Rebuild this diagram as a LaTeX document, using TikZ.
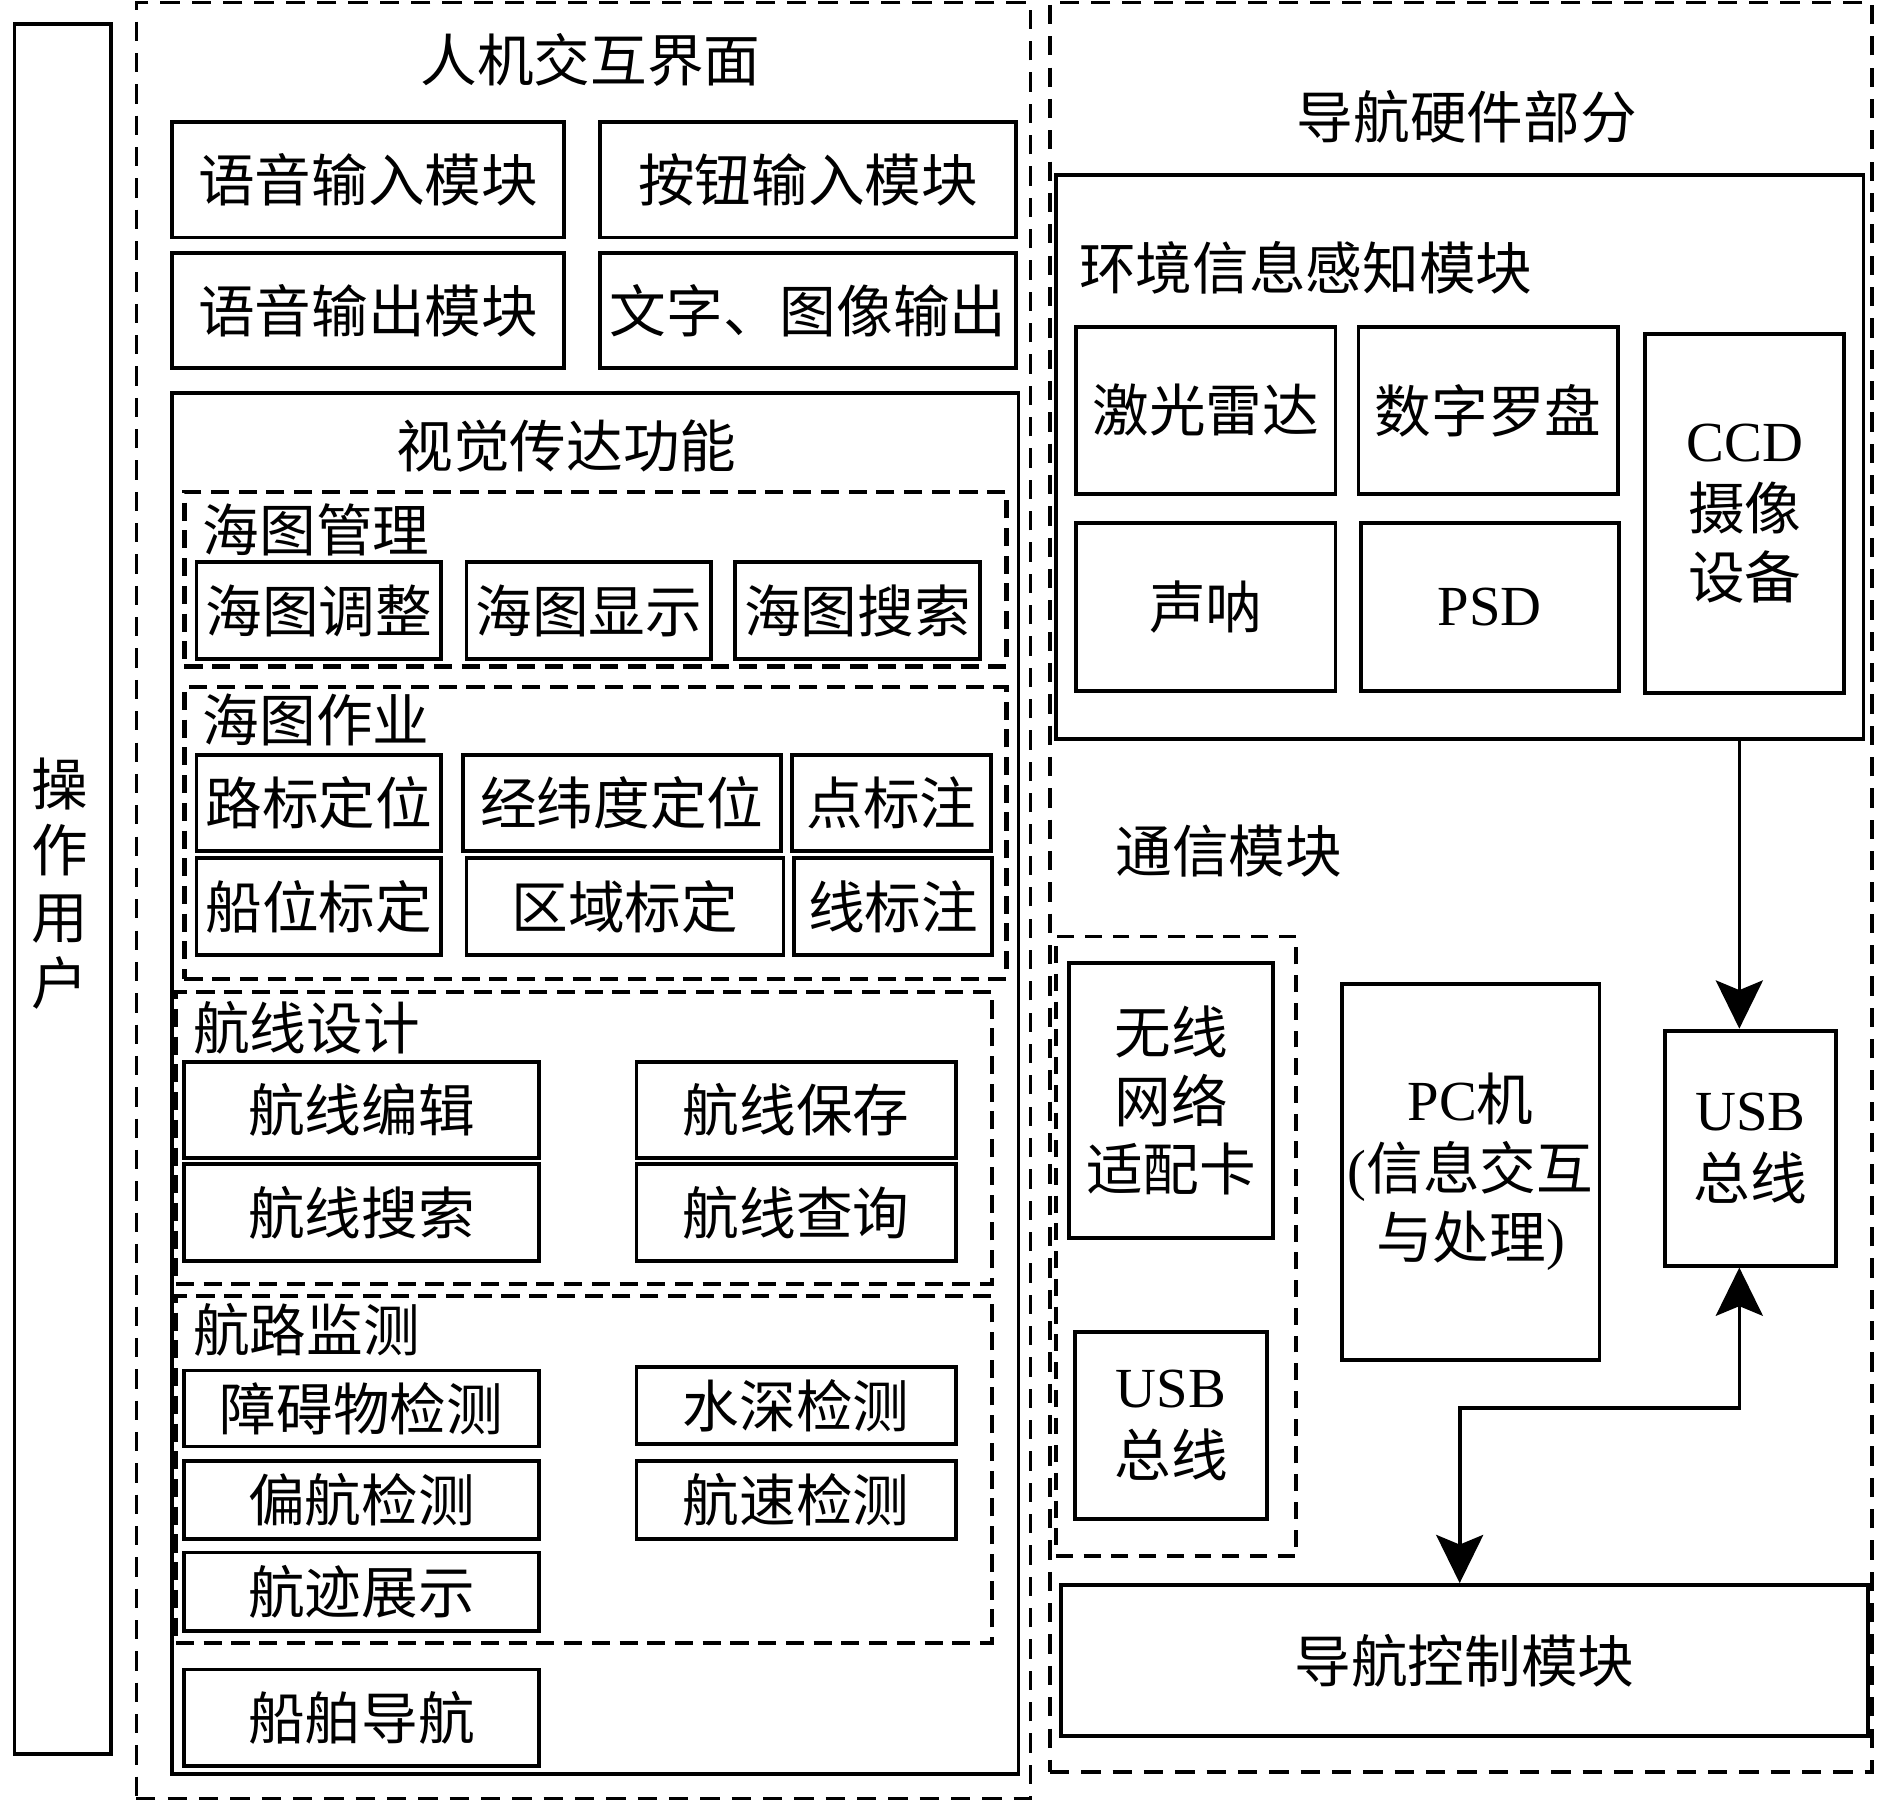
\documentclass[tikz,border=0pt]{standalone}
\usepackage{fontspec}
\setmainfont{Noto Sans CJK SC}
\newfontfamily\lat{Liberation Serif}
\usetikzlibrary{arrows.meta}
\newcommand\fz{\fontsize{23.5}{28.5}\selectfont}
\newcommand\bx[7][box]{\node[#1,minimum width={(#5-#3)*0.5pt},minimum height={(#6-#4)*0.5pt}] (#2) at ({(#3+#5)/2},{(#4+#6)/2}) {#7};}
\begin{document}
\begin{tikzpicture}[x=0.5pt,y=-0.5pt,
  box/.style={draw,line width=1.6pt,inner sep=0pt,align=center,font=\fz},
  dbox/.style={draw,line width=1.4pt,inner sep=0pt,dash pattern=on 8pt off 5pt},
  tdash/.style={draw,line width=1.8pt,inner sep=0pt,dash pattern=on 7.5pt off 4pt},
  cdash/.style={draw,line width=1.5pt,inner sep=0pt,dash pattern=on 7pt off 4.5pt},
  ttl/.style={inner sep=0pt,font=\fz},
  lbl/.style={inner sep=0pt,anchor=west,font=\fz},
  conn/.style={line width=1.5pt},
  tip/.tip={Stealth[width=19.5pt,length=20pt,inset=4pt]}]
\fill[white] (0,0) rectangle (1568,1495);
\useasboundingbox (0,0) rectangle (1568,1495);
% operator
\bx{user}{12}{20}{92}{1455}{}
\node[ttl,align=center,font=\fontsize{23.5}{27.5}\selectfont] (usertxt) at (50,733) {操\\作\\用\\户};
% left part
\bx[dbox]{lo}{113}{2}{855}{1492}{}
\node[ttl] (t1) at (490,50) {人机交互界面};
\bx{vin}{143}{101}{468}{197}{语音输入模块}
\bx{bin}{498}{101}{843}{197}{按钮输入模块}
\bx{vout}{143}{210}{468}{305}{语音输出模块}
\bx{tout}{498}{210}{843}{305}{文字、图像输出}
\bx{vis}{143}{326}{845}{1472}{}
\node[ttl] (t2) at (470,370) {视觉传达功能};
\bx[tdash]{hm}{153}{408}{835}{553}{}
\node[lbl] (hml) at (168,440) {海图管理};
\bx{hm1}{163}{466}{366}{547}{海图调整}
\bx{hm2}{387}{466}{590}{547}{海图显示}
\bx{hm3}{610}{466}{813}{547}{海图搜索}
\bx[tdash]{hz}{153}{570}{835}{812}{}
\node[lbl] (hzl) at (168,597) {海图作业};
\bx{hz1}{163}{626}{366}{706}{路标定位}
\bx{hz2}{384}{626}{648}{706}{经纬度定位}
\bx{hz3}{657}{626}{822}{706}{点标注}
\bx{hz4}{163}{712}{366}{792}{船位标定}
\bx{hz5}{387}{712}{650}{792}{区域标定}
\bx{hz6}{659}{712}{823}{792}{线标注}
\bx[tdash]{hx}{146}{823}{823}{1065}{}
\node[lbl] (hxl) at (160,853) {航线设计};
\bx{hx1}{153}{881}{447}{961}{航线编辑}
\bx{hx2}{528}{881}{793}{961}{航线保存}
\bx{hx3}{153}{966}{447}{1046}{航线搜索}
\bx{hx4}{528}{966}{793}{1046}{航线查询}
\bx[tdash]{hl}{146}{1075}{823}{1363}{}
\node[lbl] (hll) at (160,1103) {航路监测};
\bx{hl1}{153}{1137}{447}{1200}{障碍物检测}
\bx{hl2}{528}{1134}{793}{1198}{水深检测}
\bx{hl3}{153}{1212}{447}{1277}{偏航检测}
\bx{hl4}{528}{1212}{793}{1277}{航速检测}
\bx{hl5}{153}{1288}{447}{1353}{航迹展示}
\bx{ship}{153}{1385}{447}{1465}{船舶导航}
% right part
\bx[dbox]{ro}{871}{2}{1553}{1470}{}
\node[ttl] (t3) at (1217,97) {导航硬件部分};
\bx{env}{876}{145}{1546}{613}{}
\node[lbl] (envl) at (895,222) {环境信息感知模块};
\bx{e1}{893}{271}{1108}{410}{激光雷达}
\bx{e2}{1127}{271}{1342}{410}{数字罗盘}
\bx{e3}{893}{434}{1108}{573}{声呐}
\bx{e4}{1129}{434}{1343}{573}{{\lat PSD}}
\bx{e5}{1365}{277}{1530}{575}{{\lat CCD}\\摄像\\设备}
\node[lbl] (cml) at (925,706) {通信模块};
\bx[cdash]{cm}{876}{777}{1075}{1291}{}
\bx{c1}{887}{799}{1056}{1027}{无线\\网络\\适配卡}
\bx{c2}{892}{1105}{1051}{1260}{{\lat USB}\\总线}
\bx{pc}{1113}{816}{1327}{1128}{{\lat PC}机\\{\lat(}信息交互\\与处理{\lat)}}
\bx{usbR}{1381}{855}{1523}{1050}{{\lat USB}\\总线}
\bx{nav}{880}{1315}{1550}{1440}{导航控制模块}
% connectors
\coordinate (busx) at (1443,0);
\coordinate (navx) at (1211,0);
\coordinate (mid) at (0,1168);
\draw[conn,-tip] (env.south -| busx) -- (usbR.north -| busx);
\draw[conn,tip-tip] (nav.north -| navx) -- (navx |- mid) -- (busx |- mid) -- (usbR.south -| busx);
\end{tikzpicture}
\end{document}
